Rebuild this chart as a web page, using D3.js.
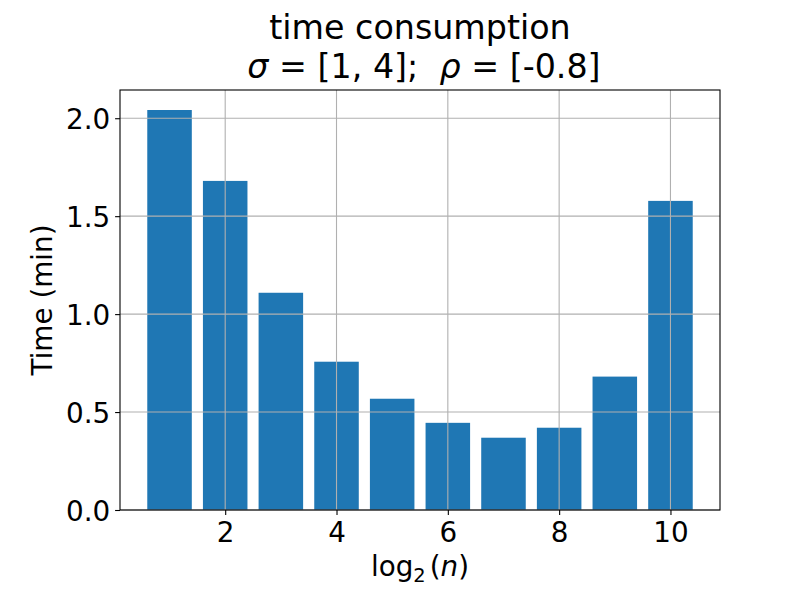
<!DOCTYPE html>
<html>
<head>
<meta charset="utf-8">
<script src="https://cdn.jsdelivr.net/npm/d3@7"></script>
<style>
  body { margin: 0; background: #fff; }
  svg { display: block; }
  text { font-family: "DejaVu Sans", sans-serif; fill: #000; }
</style>
</head>
<body>
<svg id="chart" width="800" height="600"></svg>
<script>
const categories = [1, 2, 3, 4, 5, 6, 7, 8, 9, 10];
const timeValues = [2.042, 1.680, 1.109, 0.757, 0.568, 0.445, 0.369, 0.420, 0.681, 1.578];
const xTickValues = [2, 4, 6, 8, 10];
const yTickValues = [0, 0.5, 1.0, 1.5, 2.0];
const yTickLabels = ["0.0", "0.5", "1.0", "1.5", "2.0"];

const W = 800, H = 600;
const margin = { left: 120, right: 80, top: 90, bottom: 90 };
const barWidth = 0.8;
const fs = 27.8, titleFs = 33.3;

const svg = d3.select("#chart");

const xMin = d3.min(categories) - barWidth / 2, xMax = d3.max(categories) + barWidth / 2;
const xPad = (xMax - xMin) * 0.05;
const x = d3.scaleLinear().domain([xMin - xPad, xMax + xPad]).range([margin.left, W - margin.right]);
const y = d3.scaleLinear().domain([0, d3.max(timeValues) * 1.05]).range([H - margin.bottom, margin.top]);

const data = categories.map((c, i) => ({ c, v: timeValues[i] }));

// bars
svg.append("g").selectAll("rect").data(data).join("rect")
  .attr("x", d => x(d.c - barWidth / 2))
  .attr("width", d => x(d.c + barWidth / 2) - x(d.c - barWidth / 2))
  .attr("y", d => y(d.v))
  .attr("height", d => y(0) - y(d.v))
  .attr("fill", "#1f77b4");

// grid (drawn over bars, as in matplotlib)
const grid = svg.append("g").attr("stroke", "#b0b0b0").attr("stroke-width", 1.1);
grid.selectAll("line.v").data(xTickValues).join("line").attr("class", "v")
  .attr("x1", d => x(d)).attr("x2", d => x(d))
  .attr("y1", margin.top).attr("y2", H - margin.bottom);
grid.selectAll("line.h").data(yTickValues).join("line").attr("class", "h")
  .attr("x1", margin.left).attr("x2", W - margin.right)
  .attr("y1", d => y(d)).attr("y2", d => y(d));

// axes
const xAxis = d3.axisBottom(x).tickValues(xTickValues).tickSize(4.9).tickPadding(4.9).tickFormat(d3.format("d"));
const yAxis = d3.axisLeft(y).tickValues(yTickValues).tickSize(4.9).tickPadding(4.9).tickFormat((d, i) => yTickLabels[i]);

const gx = svg.append("g").attr("transform", `translate(0,${H - margin.bottom})`).call(xAxis);
const gy = svg.append("g").attr("transform", `translate(${margin.left},0)`).call(yAxis);
[gx, gy].forEach(g => {
  g.select(".domain").remove();
  g.selectAll(".tick line").attr("stroke", "#000").attr("stroke-width", 1.1);
  g.selectAll(".tick text").attr("font-size", fs).attr("font-family", "DejaVu Sans").attr("fill", "#000");
});
gx.selectAll(".tick text").attr("dy", null).attr("y", 31.5);
gy.selectAll(".tick text").attr("dy", null).attr("y", fs * 0.364);

// spines
svg.append("rect")
  .attr("x", margin.left).attr("y", margin.top)
  .attr("width", W - margin.left - margin.right).attr("height", H - margin.top - margin.bottom)
  .attr("fill", "none").attr("stroke", "#000").attr("stroke-width", 1.1);

// titles
const cx = (margin.left + W - margin.right) / 2;
svg.append("text").attr("x", cx).attr("y", 39).attr("text-anchor", "middle")
  .attr("font-size", titleFs).text("time consumption");
const t2 = svg.append("text").attr("x", cx + 4).attr("y", 78).attr("text-anchor", "middle")
  .attr("font-size", titleFs).style("white-space", "pre");
t2.append("tspan").attr("font-style", "italic").text("σ");
t2.append("tspan").text(" = [1, 4];  ");
t2.append("tspan").attr("font-style", "italic").text("ρ");
t2.append("tspan").text(" = [-0.8]");

// x label: log2(n)
const xl = svg.append("text").attr("x", cx).attr("y", 576).attr("text-anchor", "middle").attr("font-size", fs);
xl.append("tspan").text("log");
xl.append("tspan").attr("font-size", fs * 0.7).attr("dy", 6).text("2");
xl.append("tspan").attr("dy", -6).attr("dx", 4).text("(");
xl.append("tspan").attr("font-style", "italic").text("n");
xl.append("tspan").text(")");

// y label
svg.append("text").attr("transform", `translate(52,${(margin.top + H - margin.bottom) / 2}) rotate(-90)`)
  .attr("text-anchor", "middle").attr("font-size", fs).text("Time (min)");
</script>
</body>
</html>
